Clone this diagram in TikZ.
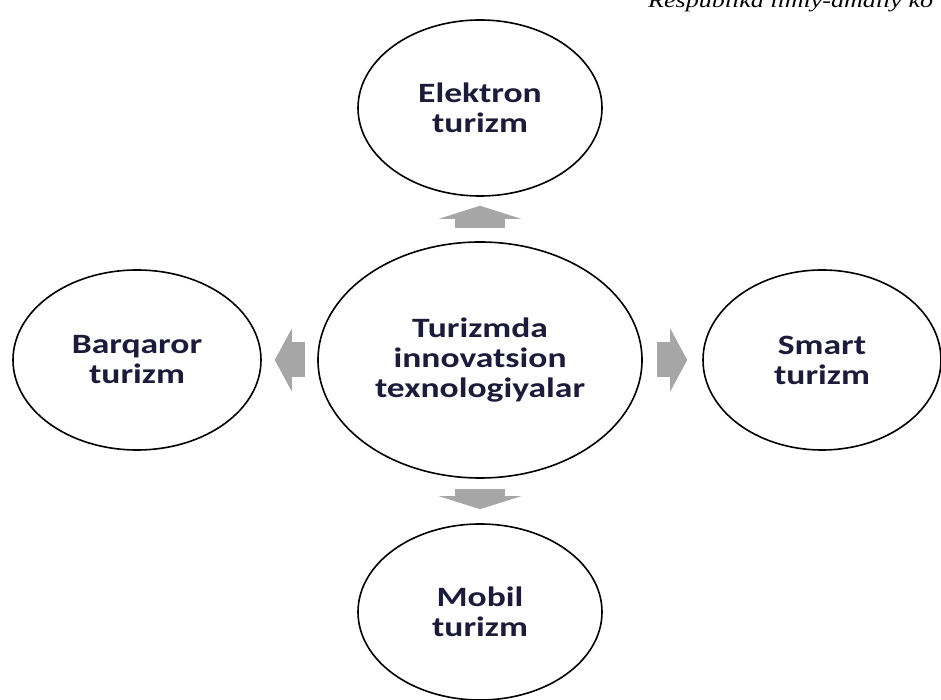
\documentclass[tikz,border=0pt]{standalone}
\usepackage{fontspec}
\usetikzlibrary{shapes.geometric,arrows.meta}
\newfontfamily\bubblefont[FakeStretch=1.27]{Carlito}
\newfontfamily\headfont[FakeStretch=1.27]{Liberation Serif}
\definecolor{ink}{HTML}{1C1C3A}
\definecolor{arrowgray}{HTML}{A6A6A6}
\begin{document}
\begin{tikzpicture}[x=1pt, y=1pt, line join=round,
 bubble/.style={ellipse, draw, line width=1.6pt, inner sep=0pt, align=center, text=ink,
  font=\bubblefont\bfseries\fontsize{28}{30}\selectfont},
 vblock/.style={draw=arrowgray, line width=50pt, line cap=butt,
  -{Triangle[width=82pt, length=13pt, line width=0pt]}},
 hblock/.style={draw=arrowgray, line width=35pt, line cap=butt,
  -{Triangle[width=63pt, length=17pt, line width=0pt]}}]
 \useasboundingbox (0,0) rectangle (941,700);
 \clip (0,0) rectangle (941,700);
 % header line, cut off at the page edge
 \node[anchor=base west, inner sep=0pt, font=\headfont\itshape\fontsize{20.5}{24}\selectfont] (hdr) at (648,692) {Respublika ilmiy-amaliy ko};
 % circles
 \node[bubble, minimum width=324pt, minimum height=236pt] (hub) at (480,340) {Turizmda\\innovatsion\\texnologiyalar};
 \node[bubble, minimum width=244pt, minimum height=176pt] (top) at (480,592) {Elektron\\turizm};
 \node[bubble, minimum width=248pt, minimum height=180pt] (left) at (137,340) {Barqaror\\turizm};
 \node[bubble, minimum width=238pt, minimum height=180pt] (right) at (822,340) {Smart\\turizm};
 \node[bubble, minimum width=244pt, minimum height=176pt] (bottom) at (480,88) {Mobil\\turizm};
 % block arrows
 \draw[vblock, shorten <=13pt, shorten >=9pt] (hub) -- (top);
 \draw[vblock, shorten <=10pt, shorten >=14pt] (hub) -- (bottom);
 \draw[hblock, shorten <=12pt, shorten >=13pt] (hub) -- (left);
 \draw[hblock, shorten <=14pt, shorten >=15pt] (hub) -- (right);
\end{tikzpicture}
\end{document}
